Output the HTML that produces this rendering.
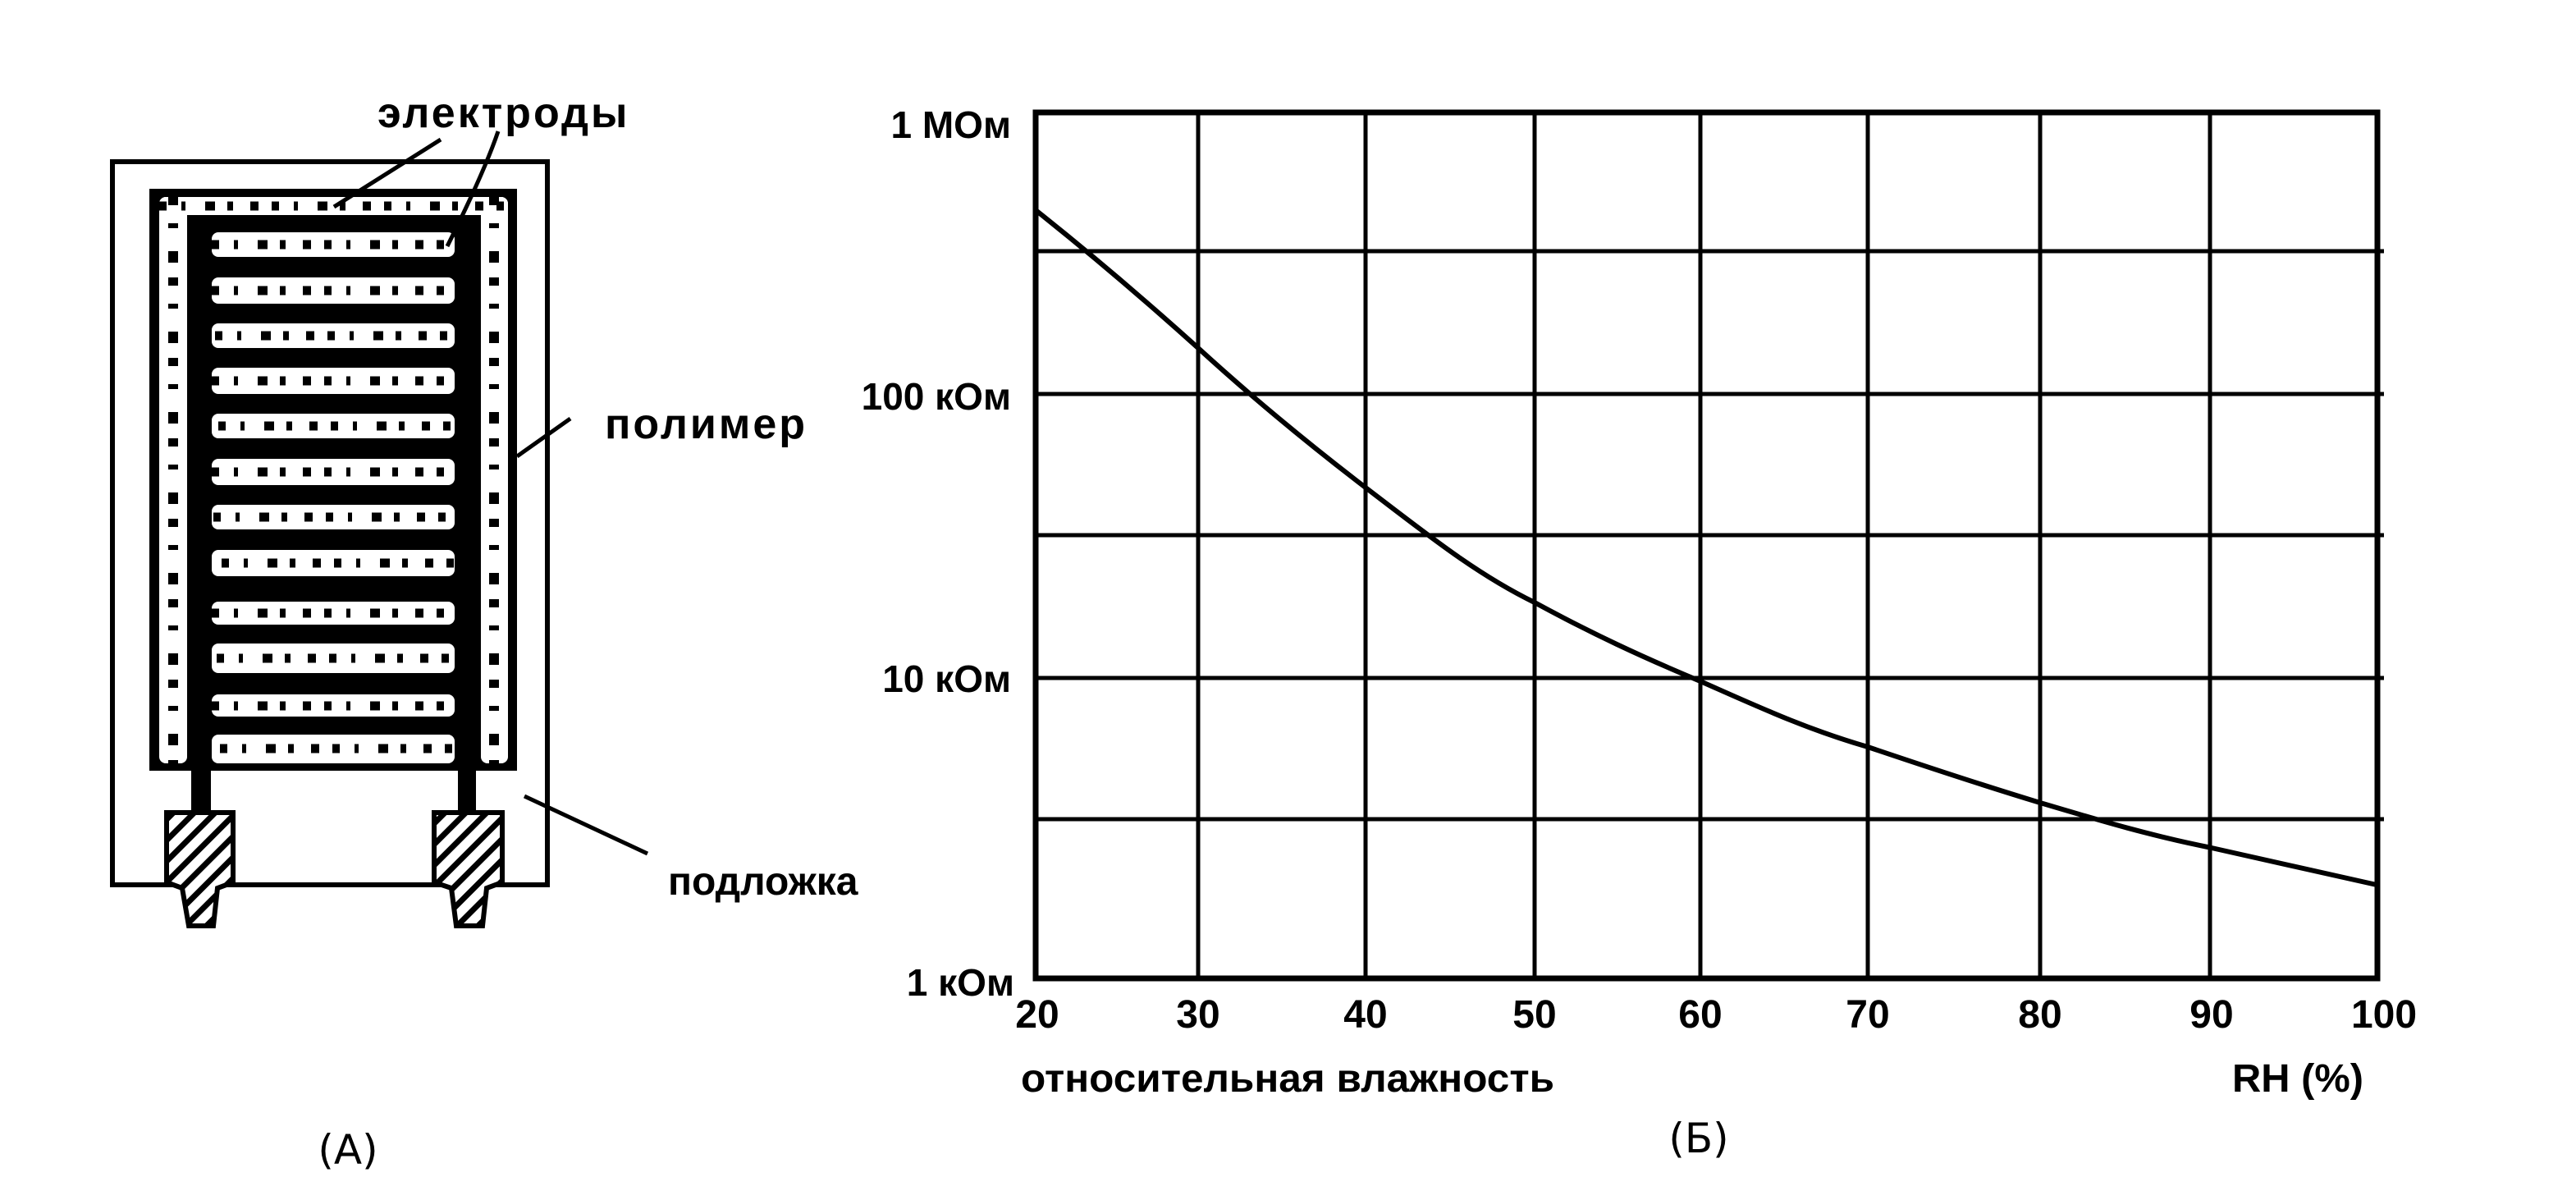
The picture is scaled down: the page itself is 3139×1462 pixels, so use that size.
<!DOCTYPE html>
<html><head><meta charset="utf-8"><style>
html,body{margin:0;padding:0;background:#fff;}
svg{display:block;}
text{font-family:"Liberation Sans",sans-serif;fill:#000;}
</style></head><body>
<svg width="3139" height="1462" viewBox="0 0 3139 1462" xmlns="http://www.w3.org/2000/svg">
<rect width="3139" height="1462" fill="#fff"/>
<!-- Left diagram -->
<rect x="137" y="197" width="530" height="881" fill="none" stroke="#000" stroke-width="6"/>
<rect x="182" y="230" width="448" height="709" fill="#000"/>
<g fill="#fff">
<rect x="194" y="240" width="34" height="690" rx="8"/>
<rect x="586" y="240" width="33" height="690" rx="8"/>
<rect x="194" y="240" width="425" height="22" rx="8"/>
</g>
<g fill="#fff">
<rect x="258" y="283" width="296" height="30" rx="8"/>
<rect x="258" y="338" width="296" height="32" rx="8"/>
<rect x="258" y="394" width="296" height="30" rx="8"/>
<rect x="258" y="448" width="296" height="32" rx="8"/>
<rect x="258" y="504" width="296" height="30" rx="8"/>
<rect x="258" y="559" width="296" height="32" rx="8"/>
<rect x="258" y="615" width="296" height="30" rx="8"/>
<rect x="258" y="670" width="296" height="32" rx="8"/>
<rect x="258" y="733" width="296" height="28" rx="8"/>
<rect x="258" y="784" width="296" height="36" rx="8"/>
<rect x="258" y="846" width="296" height="27" rx="8"/>
<rect x="258" y="895" width="296" height="35" rx="8"/>
</g>
<g stroke="#000" fill="none">
<g stroke-width="11" stroke-dasharray="9 18 5 24 12 15 7 21 10 16">
<line x1="258" y1="298" x2="554" y2="298"/><line x1="258" y1="354" x2="554" y2="354"/>
<line x1="262" y1="409" x2="554" y2="409"/><line x1="258" y1="464" x2="554" y2="464"/>
<line x1="266" y1="519" x2="554" y2="519"/><line x1="258" y1="575" x2="554" y2="575"/>
<line x1="260" y1="630" x2="554" y2="630"/><line x1="270" y1="686" x2="554" y2="686"/>
<line x1="258" y1="747" x2="554" y2="747"/><line x1="264" y1="802" x2="554" y2="802"/>
<line x1="258" y1="860" x2="554" y2="860"/><line x1="268" y1="912" x2="554" y2="912"/>
<line x1="194" y1="251" x2="619" y2="251"/>
</g>
<g stroke-width="12" stroke-dasharray="10 22 6 28 14 18">
<line x1="211" y1="240" x2="211" y2="930"/><line x1="602" y1="240" x2="602" y2="930"/>
</g>
</g>
<rect x="233" y="935" width="24" height="56" fill="#000"/>
<rect x="558" y="935" width="22" height="56" fill="#000"/>
<line x1="134" y1="1078" x2="670" y2="1078" stroke="#000" stroke-width="6"/>
<defs>
<pattern id="h" patternUnits="userSpaceOnUse" width="18" height="18" patternTransform="rotate(45)">
<rect width="18" height="18" fill="#fff"/><rect width="7" height="18" fill="#000"/>
</pattern>
</defs>
<path d="M203 990 H284 V1075 L265 1082 L260 1128 H230 L222 1082 L203 1075 Z" fill="url(#h)" stroke="#000" stroke-width="6"/>
<path d="M529 990 H612 V1075 L593 1082 L588 1128 H556 L550 1082 L529 1075 Z" fill="url(#h)" stroke="#000" stroke-width="6"/>
<g stroke="#000" stroke-width="5" fill="none">
<line x1="537" y1="170" x2="407" y2="252"/>
<path d="M607 160 Q590 210 545 300"/>
<line x1="695" y1="510" x2="630" y2="556"/>
<line x1="639" y1="970" x2="789" y2="1040"/>
</g>
<text x="460" y="155" font-size="52" font-weight="bold" letter-spacing="3">электроды</text>
<text x="737" y="534" font-size="52" font-weight="bold" letter-spacing="3">полимер</text>
<text x="814" y="1090" font-size="48" font-weight="bold">подложка</text>
<text x="424" y="1418" font-size="50" text-anchor="middle" style="font-family:'DejaVu Sans',sans-serif">(A)</text>
<text x="2070" y="1404" font-size="50" text-anchor="middle" style="font-family:'DejaVu Sans',sans-serif">(Б)</text>

<g stroke="#000" stroke-width="5">
<line x1="1460" y1="137" x2="1460" y2="1192"/>
<line x1="1664" y1="137" x2="1664" y2="1192"/>
<line x1="1870" y1="137" x2="1870" y2="1192"/>
<line x1="2072" y1="137" x2="2072" y2="1192"/>
<line x1="2276" y1="137" x2="2276" y2="1192"/>
<line x1="2486" y1="137" x2="2486" y2="1192"/>
<line x1="2693" y1="137" x2="2693" y2="1192"/>
<line x1="1262" y1="306" x2="2905" y2="306"/>
<line x1="1262" y1="480" x2="2905" y2="480"/>
<line x1="1262" y1="652" x2="2905" y2="652"/>
<line x1="1262" y1="826" x2="2905" y2="826"/>
<line x1="1262" y1="998" x2="2905" y2="998"/>
</g>
<rect x="1262" y="137" width="1635" height="1055" fill="none" stroke="#000" stroke-width="7"/>
<path d="M1262 256 C1330 310 1400 370 1460 424 C1530 488 1600 545 1664 594 C1740 652 1800 700 1870 734 C1940 772 2000 800 2072 830 C2140 860 2200 888 2276 910 C2350 935 2420 958 2486 978 C2560 1000 2620 1018 2695 1033 C2780 1052 2840 1066 2896 1078" fill="none" stroke="#000" stroke-width="6"/>
<g font-size="46" font-weight="bold" text-anchor="end">
<text x="1232" y="168">1 МОм</text>
<text x="1232" y="499">100 кОм</text>
<text x="1232" y="843">10 кОм</text>
<text x="1236" y="1213">1 кОм</text>
</g>
<g font-size="48" font-weight="bold" text-anchor="middle">
<text x="1264" y="1252">20</text>
<text x="1460" y="1252">30</text>
<text x="1664" y="1252">40</text>
<text x="1870" y="1252">50</text>
<text x="2072" y="1252">60</text>
<text x="2276" y="1252">70</text>
<text x="2486" y="1252">80</text>
<text x="2695" y="1252">90</text>
<text x="2905" y="1252">100</text>
</g>
<text x="1244" y="1330" font-size="48" font-weight="bold" textLength="650" lengthAdjust="spacingAndGlyphs">относительная влажность</text>
<text x="2720" y="1330" font-size="48" font-weight="bold" textLength="160" lengthAdjust="spacingAndGlyphs">RH (%)</text>
</svg>
</body></html>
